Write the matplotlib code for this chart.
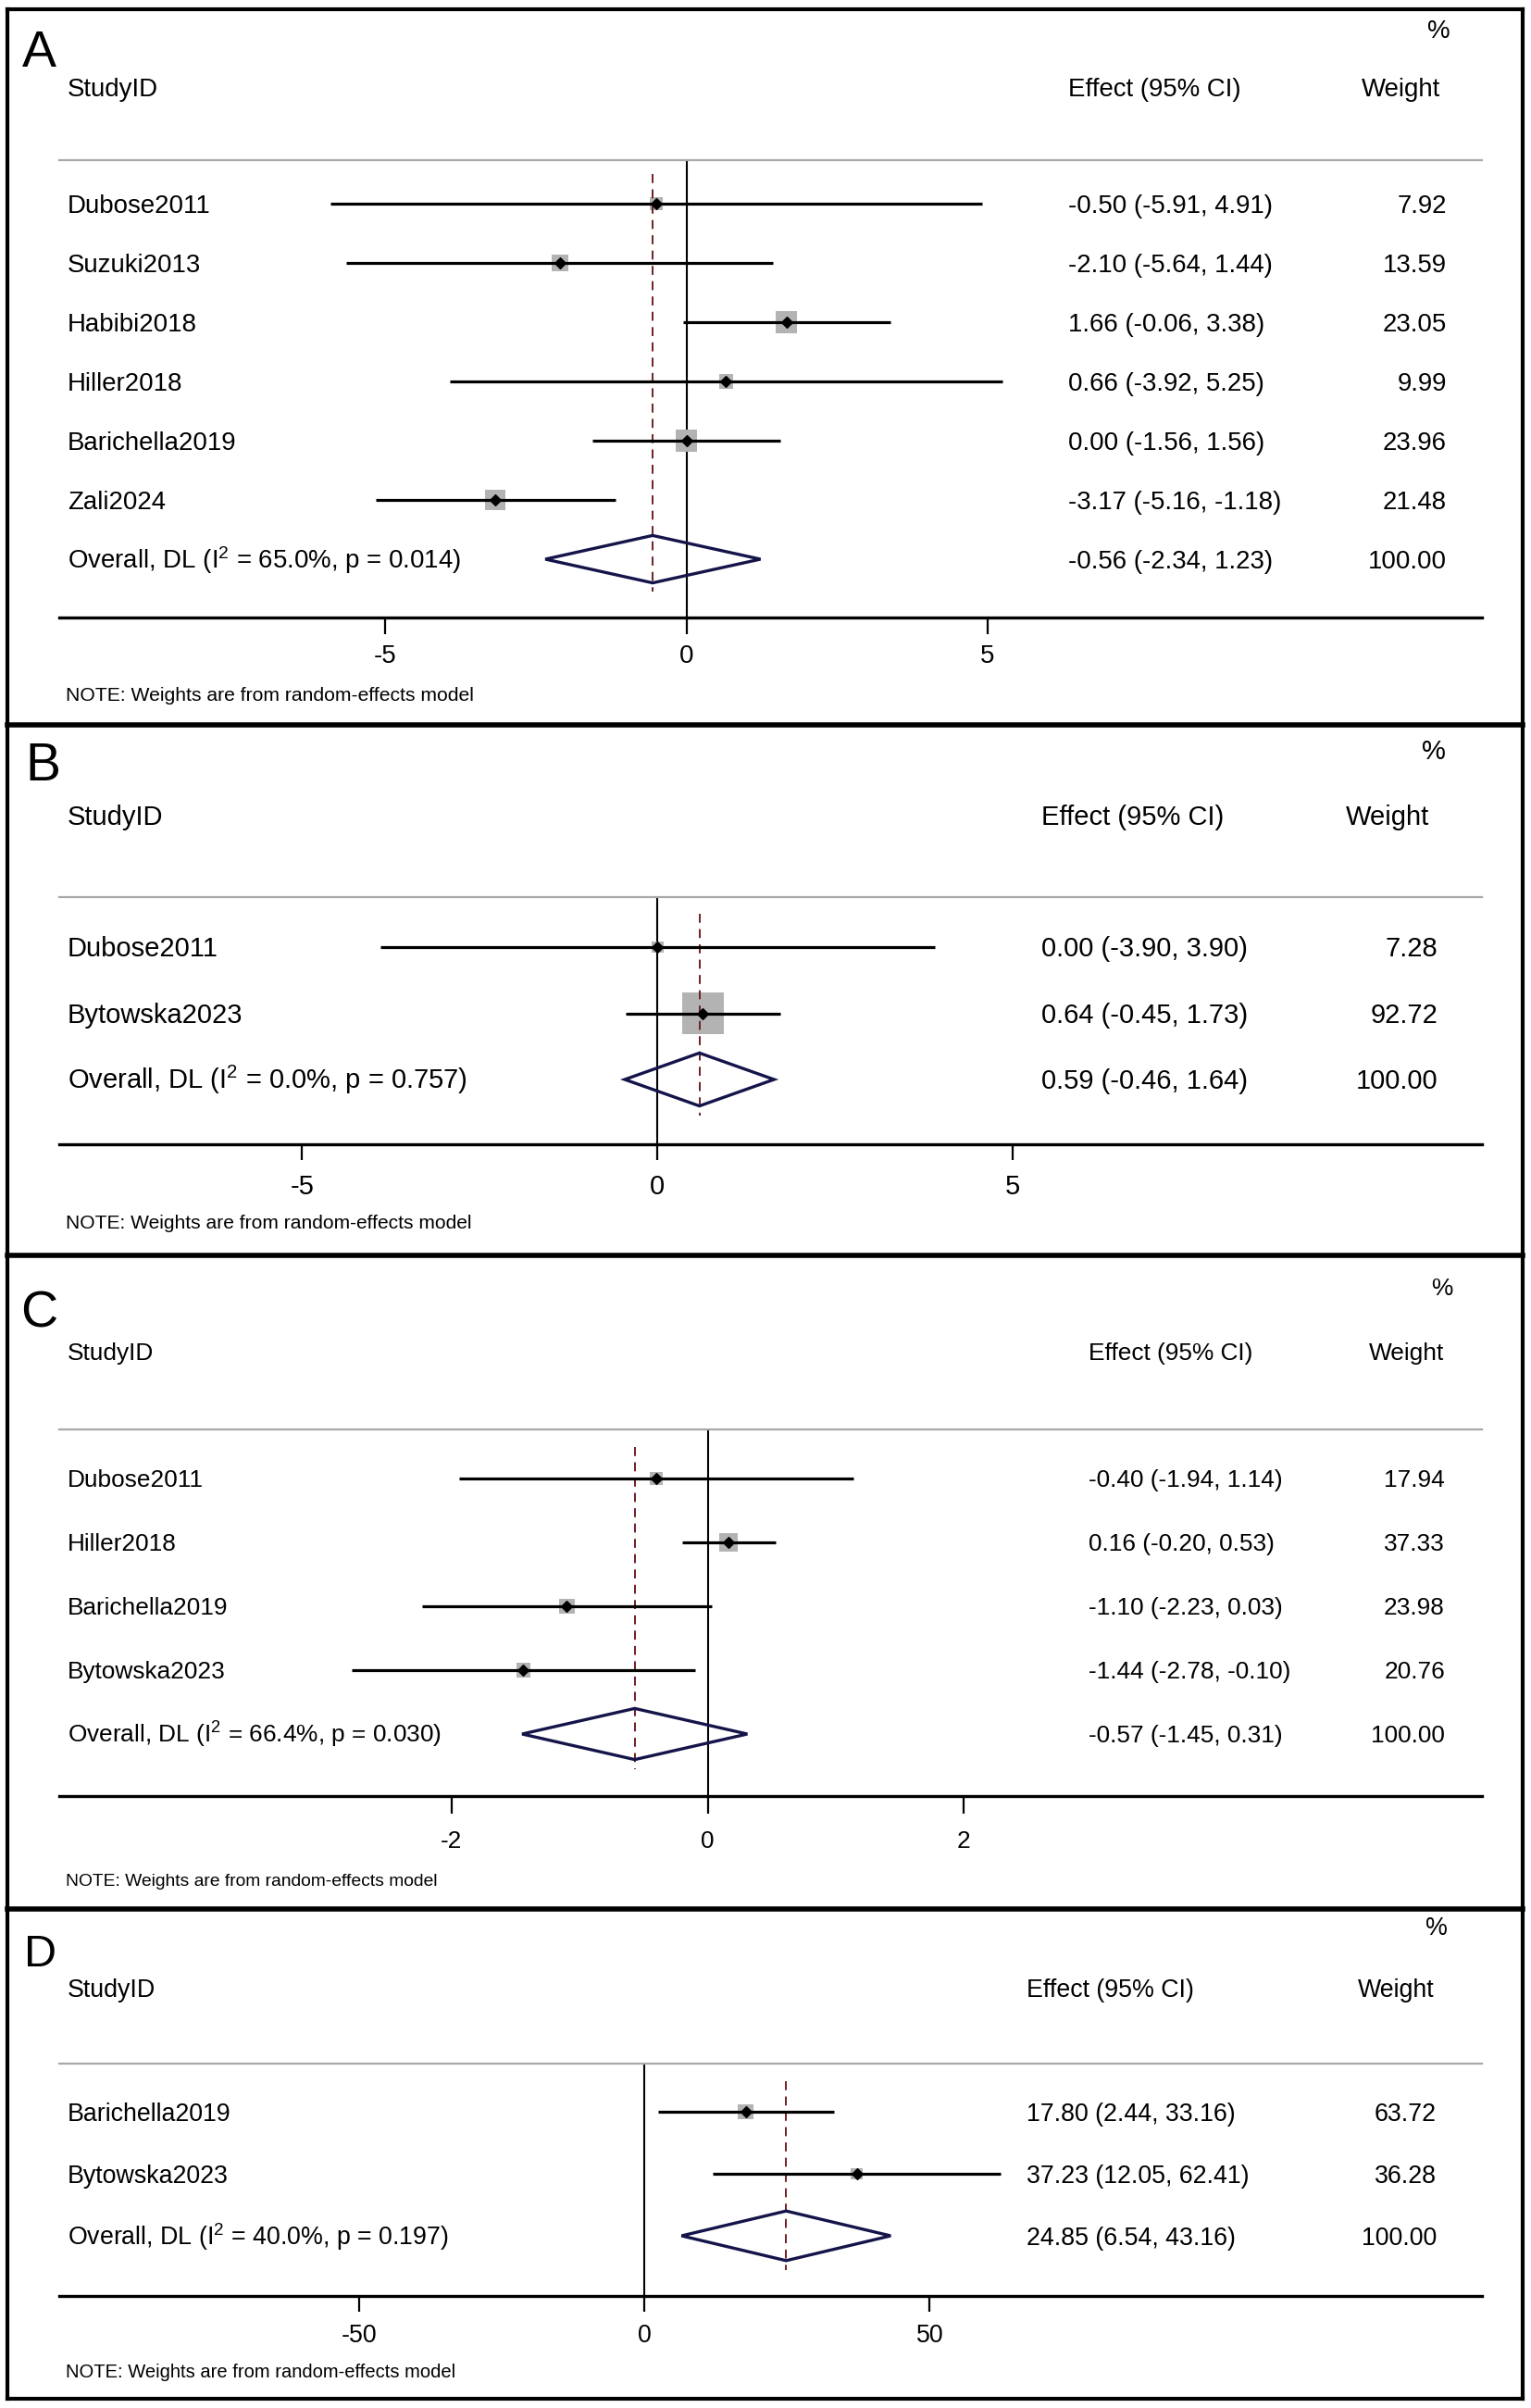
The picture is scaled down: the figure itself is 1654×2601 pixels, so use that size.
import numpy as np
import matplotlib
matplotlib.use("Agg")
import matplotlib.pyplot as plt
import matplotlib.transforms as mtransforms
from matplotlib.lines import Line2D

plt.rcParams['font.family'] = ['Liberation Sans', 'DejaVu Sans']
plt.rcParams['mathtext.fontset'] = 'custom'
plt.rcParams['mathtext.rm'] = 'Liberation Sans'
plt.rcParams['mathtext.it'] = 'Liberation Sans'
plt.rcParams['mathtext.default'] = 'regular'
plt.rcParams['axes.unicode_minus'] = False

W, H, DPI = 1654, 2601, 100

# ---------------- data ----------------
studies_a = ["Dubose2011", "Suzuki2013", "Habibi2018", "Hiller2018", "Barichella2019", "Zali2024"]
es_a = [-0.50, -2.10, 1.66, 0.66, 0.00, -3.17]
lo_a = [-5.91, -5.64, -0.06, -3.92, -1.56, -5.16]
hi_a = [4.91, 1.44, 3.38, 5.25, 1.56, -1.18]
wt_a = [7.92, 13.59, 23.05, 9.99, 23.96, 21.48]
overall_a = [-0.56, -2.34, 1.23]
i2_a, p_a = 65.0, 0.014
ticks_a = [-5, 0, 5]

studies_b = ["Dubose2011", "Bytowska2023"]
es_b = [0.00, 0.64]
lo_b = [-3.90, -0.45]
hi_b = [3.90, 1.73]
wt_b = [7.28, 92.72]
overall_b = [0.59, -0.46, 1.64]
i2_b, p_b = 0.0, 0.757
ticks_b = [-5, 0, 5]

studies_c = ["Dubose2011", "Hiller2018", "Barichella2019", "Bytowska2023"]
es_c = [-0.40, 0.16, -1.10, -1.44]
lo_c = [-1.94, -0.20, -2.23, -2.78]
hi_c = [1.14, 0.53, 0.03, -0.10]
wt_c = [17.94, 37.33, 23.98, 20.76]
overall_c = [-0.57, -1.45, 0.31]
i2_c, p_c = 66.4, 0.030
ticks_c = [-2, 0, 2]

studies_d = ["Barichella2019", "Bytowska2023"]
es_d = [17.80, 37.23]
lo_d = [2.44, 12.05]
hi_d = [33.16, 62.41]
wt_d = [63.72, 36.28]
overall_d = [24.85, 6.54, 43.16]
i2_d, p_d = 40.0, 0.197
ticks_d = [-50, 0, 50]

panels = [
    dict(letter="A", studies=studies_a, es=es_a, lo=lo_a, hi=hi_a, wt=wt_a,
         overall=overall_a, i2=i2_a, p=p_a, ticks=ticks_a),
    dict(letter="B", studies=studies_b, es=es_b, lo=lo_b, hi=hi_b, wt=wt_b,
         overall=overall_b, i2=i2_b, p=p_b, ticks=ticks_b),
    dict(letter="C", studies=studies_c, es=es_c, lo=lo_c, hi=hi_c, wt=wt_c,
         overall=overall_c, i2=i2_c, p=p_c, ticks=ticks_c),
    dict(letter="D", studies=studies_d, es=es_d, lo=lo_d, hi=hi_d, wt=wt_d,
         overall=overall_d, i2=i2_d, p=p_d, ticks=ticks_d),
]

# ---------------- layout (pixels of the 1654x2601 canvas) ----------------
layouts = [
    dict(gray=172.6, axis=667, row0=220, step=64, hdr=94.5, pct=31, tlab=706, note=749,
         let_top=32, let_x=24, let_fs=40, x0=741.5, ppu=65.1, eff_x=1154, wt_x=1563,
         whdr_x=1556, pct_x=1567, fs=19.9, note_fs=15.2, box=3.53, tlen=18),
    dict(gray=969, axis=1236, row0=1023, step=71.5, hdr=881, pct=810, tlab=1278, note=1319,
         let_top=802, let_x=27, let_fs=41, x0=710.3, ppu=76.78, eff_x=1125, wt_x=1553,
         whdr_x=1544, pct_x=1562, fs=21.0, note_fs=15.1, box=3.36, tlen=17),
    dict(gray=1544, axis=1940, row0=1597, step=69, hdr=1459.5, pct=1389.5, tlab=1986, note=2030,
         let_top=1394, let_x=22, let_fs=40, x0=764.5, ppu=138.25, eff_x=1176, wt_x=1561,
         whdr_x=1560, pct_x=1569, fs=18.9, note_fs=13.9, box=2.38, tlen=18.5),
    dict(gray=2229, axis=2480, row0=2281, step=67, hdr=2147, pct=2080, tlab=2520, note=2561,
         let_top=2089, let_x=26, let_fs=35, x0=696, ppu=6.168, eff_x=1109, wt_x=1552,
         whdr_x=1549.5, pct_x=1563.5, fs=19.3, note_fs=14.5, box=1.53, tlen=16.5),
]

X_LEFT, X_RIGHT = 63.5, 1601
TXT_X = 73
NAVY = "#14144a"
MAROON = "#6e1f24"
BOXGRAY = "#b3b3b3"


def fx(x):
    return x / W


def fy(y):
    return 1 - y / H


PX = DPI / 72.0  # pixels per point

fig = plt.figure(figsize=(W / DPI, H / DPI), dpi=DPI)
fig.patch.set_facecolor("white")

for pan, lay in zip(panels, layouts):
    fs = lay["fs"]
    em = fs * PX
    n = len(pan["studies"])
    rows = np.arange(n)
    orow = n

    ax = fig.add_axes([fx(X_LEFT), fy(lay["axis"]), (X_RIGHT - X_LEFT) / W,
                       (lay["axis"] - lay["gray"]) / H])
    ax.patch.set_visible(False)
    ax.set_xlim((X_LEFT - lay["x0"]) / lay["ppu"], (X_RIGHT - lay["x0"]) / lay["ppu"])
    ax.set_ylim((lay["axis"] - lay["row0"]) / lay["step"],
                -(lay["row0"] - lay["gray"]) / lay["step"])

    # reference line at zero
    ax.axvline(0, color="k", lw=1.5, zorder=1)

    # study rows
    ax.hlines(rows, pan["lo"], pan["hi"], color="k", lw=2.3, zorder=3)
    ax.scatter(pan["es"], rows, marker="s", s=(lay["box"] ** 2) * np.array(pan["wt"]),
               color=BOXGRAY, edgecolors="none", zorder=2, clip_on=False)
    ax.scatter(pan["es"], rows, marker="D", s=6.0 ** 2, color="k", zorder=4, clip_on=False)

    # overall diamond and dashed line
    oes, olo, ohi = pan["overall"]
    h = 0.4
    ax.fill([olo, oes, ohi, oes, olo], [orow, orow - h, orow, orow + h, orow],
            facecolor="none", edgecolor=NAVY, lw=2.4, zorder=3, clip_on=False)
    ax.plot([oes, oes], [-0.5, orow + 0.55], color=MAROON, lw=1.4, dashes=(5, 3.5),
            zorder=2, clip_on=False)

    # axes styling
    for side in ("left", "right"):
        ax.spines[side].set_visible(False)
    ax.spines["top"].set_color("#a8a8a8")
    ax.spines["top"].set_linewidth(1.6)
    ax.spines["bottom"].set_color("k")
    ax.spines["bottom"].set_linewidth(2.4)
    ax.set_yticks([])
    ax.set_xticks(pan["ticks"])
    ax.set_xticklabels([str(t) for t in pan["ticks"]])
    pad_px = (lay["tlab"] - 0.358 * em) - lay["axis"] - lay["tlen"]
    ax.tick_params(axis="x", direction="out", length=lay["tlen"] / PX, width=1.6,
                   pad=pad_px / PX, labelsize=fs, colors="k")

    # row texts (study label, effect, weight)
    trans = mtransforms.blended_transform_factory(fig.transFigure, ax.transData)
    tb = mtransforms.offset_copy(trans, fig=fig, y=-0.358 * fs, units="points")
    labels = pan["studies"] + [
        "Overall, DL (I$^{2}$ = %.1f%%, p = %.3f)" % (pan["i2"], pan["p"])]
    effs = ["%.2f (%.2f, %.2f)" % t for t in zip(pan["es"], pan["lo"], pan["hi"])]
    effs.append("%.2f (%.2f, %.2f)" % (oes, olo, ohi))
    wts = ["%.2f" % w for w in pan["wt"]] + ["100.00"]
    for r, (lab, ef, wt) in enumerate(zip(labels, effs, wts)):
        ax.text(fx(TXT_X), r, lab, transform=tb, fontsize=fs, ha="left", va="baseline",
                clip_on=False)
        ax.text(fx(lay["eff_x"]), r, ef, transform=tb, fontsize=fs, ha="left",
                va="baseline", clip_on=False)
        ax.text(fx(lay["wt_x"]), r, wt, transform=tb, fontsize=fs, ha="right",
                va="baseline", clip_on=False)

    # headers
    base = lambda y: fy(y + 0.358 * em)
    fig.text(fx(TXT_X), base(lay["hdr"]), "StudyID", fontsize=fs, va="baseline")
    fig.text(fx(lay["eff_x"]), base(lay["hdr"]), "Effect (95% CI)", fontsize=fs,
             va="baseline")
    fig.text(fx(lay["whdr_x"]), base(lay["hdr"]), "Weight", fontsize=fs, va="baseline",
             ha="right")
    fig.text(fx(lay["pct_x"]), base(lay["pct"]), "%", fontsize=fs, va="baseline", ha="right")
    nem = lay["note_fs"] * PX
    fig.text(fx(71), fy(lay["note"] + 0.358 * nem),
             "NOTE: Weights are from random-effects model", fontsize=lay["note_fs"],
             va="baseline")
    lem = lay["let_fs"] * PX
    fig.text(fx(lay["let_x"]), fy(lay["let_top"] + 0.716 * lem), pan["letter"],
             fontsize=lay["let_fs"], va="baseline")

# panel frames
L, R, T, B = 8, 1645, 10, 2591
for xs, ys, lw in [
    ([L, R], [T, T], 3), ([L, R], [B, B], 3), ([L, L], [T, B], 3), ([R, R], [T, B], 3),
    ([L, R], [783, 783], 4), ([L, R], [1356, 1356], 4), ([L, R], [2062, 2062], 4),
]:
    fig.add_artist(Line2D([fx(x) for x in xs], [fy(y) for y in ys],
                          transform=fig.transFigure, color="k", lw=lw))

fig.savefig("out.png", dpi=DPI, facecolor="white")
